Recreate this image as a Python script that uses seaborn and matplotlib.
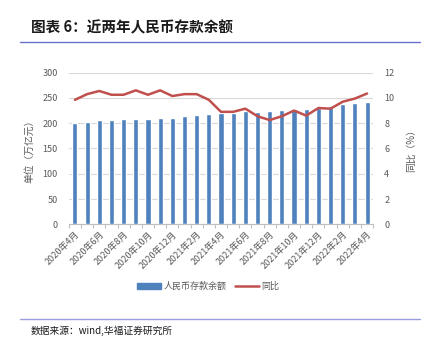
import matplotlib
matplotlib.use("Agg")
import matplotlib.pyplot as plt
import seaborn as sns
import pandas as pd
from matplotlib.lines import Line2D
from matplotlib.patches import Patch

months = ["2020年4月", "2020年5月", "2020年6月", "2020年7月", "2020年8月", "2020年9月",
          "2020年10月", "2020年11月", "2020年12月", "2021年1月", "2021年2月", "2021年3月",
          "2021年4月", "2021年5月", "2021年6月", "2021年7月", "2021年8月", "2021年9月",
          "2021年10月", "2021年11月", "2021年12月", "2022年1月", "2022年2月", "2022年3月",
          "2022年4月"]
deposit = [201, 203, 205.5, 205.5, 207.5, 208.5, 209, 211, 211, 213.5, 215.5, 217.5,
           219.5, 220.5, 224.5, 222.5, 224.5, 226.5, 228.5, 228.5, 231, 234, 237.5,
           240.5, 241.5]
yoy = [9.85, 10.3, 10.55, 10.25, 10.25, 10.6, 10.25, 10.6, 10.15, 10.3, 10.3, 9.85,
       8.9, 8.9, 9.15, 8.55, 8.25, 8.55, 9.0, 8.6, 9.2, 9.15, 9.7, 9.95, 10.35]
left_ticks = [0, 50, 100, 150, 200, 250, 300]
right_ticks = [0, 2, 4, 6, 8, 10, 12]

sns.set_theme(style="white")
plt.rcParams['font.family'] = ['Noto Sans CJK SC', 'DejaVu Sans']

BAR = "#4F81BD"
RED = "#C0504D"
GRAY = "#595959"

df = pd.DataFrame({"month": months, "deposit": deposit, "yoy": yoy,
                   "idx": list(range(len(months)))})

fig = plt.figure(figsize=(4.25, 3.51), dpi=100)
ax = fig.add_axes([0.162, 0.361, 0.716, 0.432])

sns.barplot(data=df, x="month", y="deposit", color=BAR, width=0.42,
            saturation=1, ax=ax, zorder=2)
ax.set_ylim(0, 300)
ax.set_yticks(left_ticks)
ax.set_xlim(-0.5, len(months) - 0.5)
ax.yaxis.grid(True, color="#D9D9D9", linewidth=0.8, zorder=0)
ax.set_axisbelow(True)
for s in ["top", "right", "left"]:
    ax.spines[s].set_visible(False)
ax.spines["bottom"].set_color("#BFBFBF")
ax.spines["bottom"].set_linewidth(0.8)

# category labels every other month
lab_pos = list(range(0, len(months), 2))
ax.set_xticks(lab_pos)
ax.set_xticklabels([months[i] for i in lab_pos], rotation=45, ha="right",
                   rotation_mode="anchor", fontsize=6.5, color=GRAY)
ax.tick_params(axis="x", which="major", length=0, pad=4)
ax.set_xticks([i - 0.5 for i in range(len(months) + 1)], minor=True)
ax.tick_params(axis="x", which="minor", length=3, color="#BFBFBF", width=0.8,
               bottom=True)
ax.tick_params(axis="y", length=0, labelsize=6.5, labelcolor=GRAY, pad=8)
ax.set_xlabel("")
ax.set_ylabel("单位（万亿元）", fontsize=7, color=GRAY, labelpad=6)

ax2 = ax.twinx()
sns.lineplot(data=df, x="idx", y="yoy", color=RED, linewidth=1.8, ax=ax2,
             zorder=3)
ax2.set_ylim(0, 12)
ax2.set_yticks(right_ticks)
ax2.set_xlim(-0.5, len(months) - 0.5)
for s in ["top", "right", "left", "bottom"]:
    ax2.spines[s].set_visible(False)
ax2.tick_params(axis="y", length=0, labelsize=6.5, labelcolor=GRAY, pad=8)
ax2.set_xlabel("")
ax2.set_ylabel("同比（%）", fontsize=7, color=GRAY, rotation=90, labelpad=8)
ax2.grid(False)

handles = [Patch(facecolor=BAR, edgecolor=BAR),
           Line2D([0], [0], color=RED, linewidth=1.8)]
fig.legend(handles, ["人民币存款余额", "同比"], loc="center",
           bbox_to_anchor=(0.49, 0.183), ncol=2, frameon=False, fontsize=6.5,
           handlelength=2.6, handleheight=0.6, columnspacing=1.0,
           handletextpad=0.3, labelcolor=GRAY)

# title and rules
fig.text(0.072, 0.923, "图表 6：近两年人民币存款余额", fontsize=10.5,
         fontweight="bold", ha="left", va="center", color="#1a1a1a")
fig.add_artist(Line2D([0.047, 0.988], [0.880, 0.880], color="#6B70CF",
                      linewidth=1.0, transform=fig.transFigure))
fig.add_artist(Line2D([0.047, 0.988], [0.090, 0.090], color="#9A9EDC",
                      linewidth=1.0, transform=fig.transFigure))
fig.text(0.072, 0.058, "数据来源：wind,华福证券研究所", fontsize=7,
         ha="left", va="center", color="#1a1a1a")

fig.savefig("out.png", dpi=100)
